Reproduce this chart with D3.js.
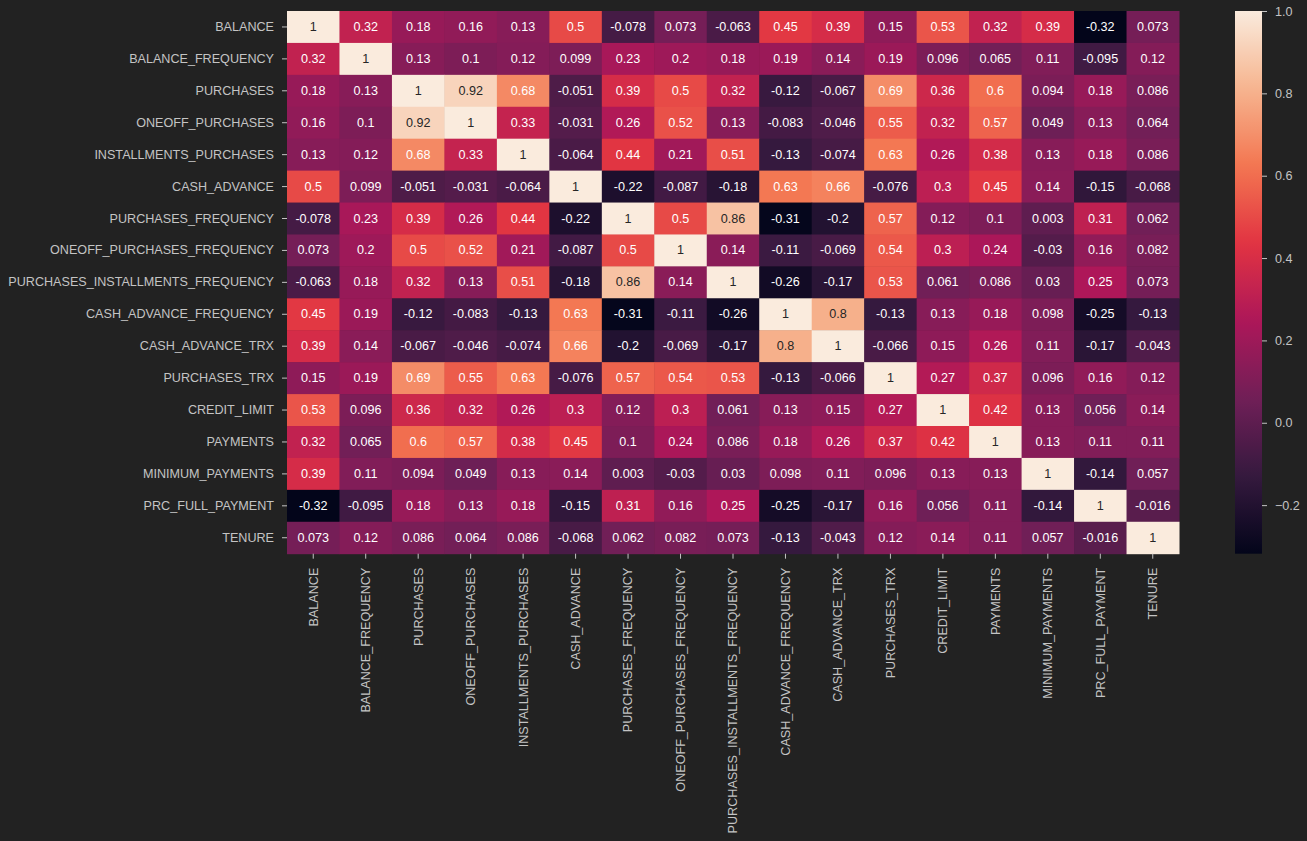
<!DOCTYPE html>
<html><head><meta charset="utf-8">
<script src="https://cdn.jsdelivr.net/npm/d3@7"></script>
<style>html,body{margin:0;padding:0;background:#222222;}svg{display:block;}</style>
</head><body>
<svg id="chart" width="1307" height="841"></svg>
<script>
const labels = ["BALANCE","BALANCE_FREQUENCY","PURCHASES","ONEOFF_PURCHASES","INSTALLMENTS_PURCHASES","CASH_ADVANCE","PURCHASES_FREQUENCY","ONEOFF_PURCHASES_FREQUENCY","PURCHASES_INSTALLMENTS_FREQUENCY","CASH_ADVANCE_FREQUENCY","CASH_ADVANCE_TRX","PURCHASES_TRX","CREDIT_LIMIT","PAYMENTS","MINIMUM_PAYMENTS","PRC_FULL_PAYMENT","TENURE"];
const matrix = [
[1,0.32,0.18,0.16,0.13,0.5,-0.078,0.073,-0.063,0.45,0.39,0.15,0.53,0.32,0.39,-0.32,0.073],
[0.32,1,0.13,0.1,0.12,0.099,0.23,0.2,0.18,0.19,0.14,0.19,0.096,0.065,0.11,-0.095,0.12],
[0.18,0.13,1,0.92,0.68,-0.051,0.39,0.5,0.32,-0.12,-0.067,0.69,0.36,0.6,0.094,0.18,0.086],
[0.16,0.1,0.92,1,0.33,-0.031,0.26,0.52,0.13,-0.083,-0.046,0.55,0.32,0.57,0.049,0.13,0.064],
[0.13,0.12,0.68,0.33,1,-0.064,0.44,0.21,0.51,-0.13,-0.074,0.63,0.26,0.38,0.13,0.18,0.086],
[0.5,0.099,-0.051,-0.031,-0.064,1,-0.22,-0.087,-0.18,0.63,0.66,-0.076,0.3,0.45,0.14,-0.15,-0.068],
[-0.078,0.23,0.39,0.26,0.44,-0.22,1,0.5,0.86,-0.31,-0.2,0.57,0.12,0.1,0.003,0.31,0.062],
[0.073,0.2,0.5,0.52,0.21,-0.087,0.5,1,0.14,-0.11,-0.069,0.54,0.3,0.24,-0.03,0.16,0.082],
[-0.063,0.18,0.32,0.13,0.51,-0.18,0.86,0.14,1,-0.26,-0.17,0.53,0.061,0.086,0.03,0.25,0.073],
[0.45,0.19,-0.12,-0.083,-0.13,0.63,-0.31,-0.11,-0.26,1,0.8,-0.13,0.13,0.18,0.098,-0.25,-0.13],
[0.39,0.14,-0.067,-0.046,-0.074,0.66,-0.2,-0.069,-0.17,0.8,1,-0.066,0.15,0.26,0.11,-0.17,-0.043],
[0.15,0.19,0.69,0.55,0.63,-0.076,0.57,0.54,0.53,-0.13,-0.066,1,0.27,0.37,0.096,0.16,0.12],
[0.53,0.096,0.36,0.32,0.26,0.3,0.12,0.3,0.061,0.13,0.15,0.27,1,0.42,0.13,0.056,0.14],
[0.32,0.065,0.6,0.57,0.38,0.45,0.1,0.24,0.086,0.18,0.26,0.37,0.42,1,0.13,0.11,0.11],
[0.39,0.11,0.094,0.049,0.13,0.14,0.003,-0.03,0.03,0.098,0.11,0.096,0.13,0.13,1,-0.14,0.057],
[-0.32,-0.095,0.18,0.13,0.18,-0.15,0.31,0.16,0.25,-0.25,-0.17,0.16,0.056,0.11,-0.14,1,-0.016],
[0.073,0.12,0.086,0.064,0.086,-0.068,0.062,0.082,0.073,-0.13,-0.043,0.12,0.14,0.11,0.057,-0.016,1]
];
const colorDomain = [-0.318, 1];
const colorbarTicks = [-0.2, 0.0, 0.2, 0.4, 0.6, 0.8, 1.0];
const rocketStops = ["#03051a","#35193e","#701f57","#ad1759","#e13342","#f37651","#f6b48f","#faebdd"];

(function(){
const svg = d3.select("#chart");
const mLeft = 287, mTop = 11, mRight = 1179, mBottom = 553.7;
const font = "'Liberation Sans', Arial, Helvetica, sans-serif";
const labelColor = "#c4c4c4";

const x = d3.scaleBand().domain(labels).range([mLeft, mRight]);
const y = d3.scaleBand().domain(labels).range([mTop, mBottom]);
const rocket = d3.scaleLinear().domain(d3.range(rocketStops.length).map(i => i/(rocketStops.length-1)))
  .range(rocketStops).interpolate(d3.interpolateRgb).clamp(true);
const norm = d3.scaleLinear().domain(colorDomain).range([0,1]).clamp(true);
const color = v => rocket(norm(v));

function lum(c) {
  const rgb = d3.rgb(c);
  const f = u => { u/=255; return u <= 0.03928 ? u/12.92 : Math.pow((u+0.055)/1.055, 2.4); };
  return 0.2126*f(rgb.r)+0.7152*f(rgb.g)+0.0722*f(rgb.b);
}

const cells = [];
matrix.forEach((row, i) => row.forEach((v, j) => cells.push({r: labels[i], c: labels[j], v})));

svg.append("g").selectAll("rect").data(cells).join("rect")
  .attr("x", d => x(d.c)).attr("y", d => y(d.r))
  .attr("width", x.bandwidth()+0.5).attr("height", y.bandwidth()+0.5)
  .attr("fill", d => color(d.v));

svg.append("g").selectAll("text").data(cells).join("text")
  .attr("x", d => x(d.c) + x.bandwidth()/2).attr("y", d => y(d.r) + y.bandwidth()/2)
  .attr("text-anchor", "middle").attr("dominant-baseline", "central")
  .attr("font-family", font).attr("font-size", "12.6px")
  .attr("fill", d => lum(color(d.v)) > 0.408 ? "#262626" : "#ffffff")
  .text(d => String(d.v));

const yAxis = svg.append("g").attr("transform", `translate(${mLeft},0)`)
  .call(d3.axisLeft(y).tickSize(5).tickPadding(8));
const xAxis = svg.append("g").attr("transform", `translate(0,${mBottom})`)
  .call(d3.axisBottom(x).tickSize(5).tickPadding(8));
[yAxis, xAxis].forEach(a => {
  a.select(".domain").remove();
  a.selectAll(".tick line").attr("stroke", labelColor).attr("stroke-width", 1);
  a.selectAll(".tick text").attr("fill", labelColor).attr("font-family", font).attr("font-size", "12.6px");
});
xAxis.selectAll(".tick text")
  .attr("transform", "rotate(-90)")
  .attr("text-anchor", "end")
  .attr("x", -14).attr("y", 0).attr("dy", "0.35em");

const cbX = 1235, cbW = 27;
const cy = d3.scaleLinear().domain(colorDomain).range([mBottom, mTop]);
const defs = svg.append("defs");
const grad = defs.append("linearGradient").attr("id", "cbgrad")
  .attr("x1", 0).attr("y1", 1).attr("x2", 0).attr("y2", 0);
grad.selectAll("stop").data(d3.range(0, 1.0001, 0.02)).join("stop")
  .attr("offset", d => d).attr("stop-color", d => rocket(d));
svg.append("rect").attr("x", cbX).attr("y", mTop).attr("width", cbW).attr("height", mBottom - mTop)
  .attr("fill", "url(#cbgrad)");
const cbAxis = svg.append("g").attr("transform", `translate(${cbX + cbW},0)`)
  .call(d3.axisRight(cy).tickValues(colorbarTicks).tickFormat(d3.format(".1f")).tickSize(5).tickPadding(8));
cbAxis.select(".domain").remove();
cbAxis.selectAll(".tick line").attr("stroke", labelColor);
cbAxis.selectAll(".tick text").attr("fill", labelColor).attr("font-family", font).attr("font-size", "12.6px");
})();
</script>
</body></html>
